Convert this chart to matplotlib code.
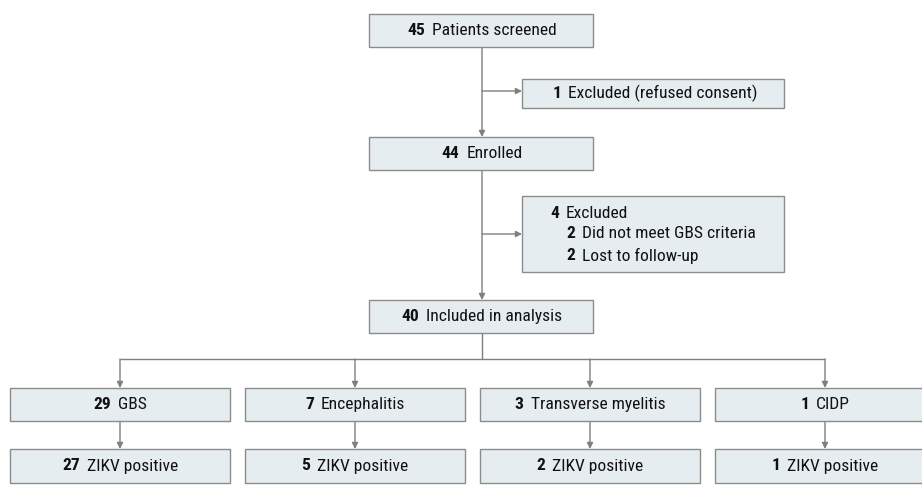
import matplotlib
matplotlib.use("Agg")
import matplotlib.pyplot as plt
from matplotlib import font_manager
from matplotlib.patches import Rectangle

# ---- data ----
screened_n = 45
screened_label = "Patients screened"
excl1_n = 1
excl1_label = "Excluded (refused consent)"
enrolled_n = 44
enrolled_label = "Enrolled"
excl2_n = 4
excl2_label = "Excluded"
excl2_reason_n = [2, 2]
excl2_reason_labels = ["Did not meet GBS criteria", "Lost to follow-up"]
analysis_n = 40
analysis_label = "Included in analysis"
diag_labels = ["GBS", "Encephalitis", "Transverse myelitis", "CIDP"]
diag_n = [29, 7, 3, 1]
zikv_label = "ZIKV positive"
zikv_n = [27, 5, 2, 1]

# ---- style ----
available = {f.name for f in font_manager.fontManager.ttflist}
family = "DejaVu Sans"
for cand in ["Liberation Sans Narrow", "Roboto Condensed", "Open Sans Condensed", "Noto Sans"]:
    if cand in available:
        family = cand
        break
plt.rcParams["font.family"] = [family, "DejaVu Sans"]
FS = 12.6
FILL = "#e6edf0"
EDGE = "#8c8c8c"
LINE = "#7f7f7f"
TXT = "#111111"

W, H = 922, 497
fig = plt.figure(figsize=(W / 100, H / 100), dpi=100)
ax = fig.add_axes([0, 0, 1, 1])
ax.set_xlim(0, W)
ax.set_ylim(H, 0)
ax.axis("off")
renderer = fig.canvas.get_renderer()


def box(x0, y0, x1, y1):
    ax.add_patch(Rectangle((x0, y0), x1 - x0, y1 - y0, facecolor=FILL,
                           edgecolor=EDGE, linewidth=1.0, zorder=2))


def text_width(s, weight):
    t = ax.text(0, 0, s, fontsize=FS, fontweight=weight)
    bb = t.get_window_extent(renderer=renderer)
    t.remove()
    inv = ax.transData.inverted()
    (xa, _), (xb, _) = inv.transform([(bb.x0, bb.y0), (bb.x1, bb.y0)])
    return abs(xb - xa)


def label(n, s, x, y, align="center"):
    num = str(n)
    wn = text_width(num, "bold")
    gap = 7
    ws = text_width(s, "normal")
    total = wn + gap + ws
    left = x - total / 2 if align == "center" else x
    ax.text(left, y, num, fontsize=FS, fontweight="bold", color=TXT,
            ha="left", va="center", zorder=3)
    ax.text(left + wn + gap, y, s, fontsize=FS, color=TXT,
            ha="left", va="center", zorder=3)


def arrow(x0, y0, x1, y1):
    ax.annotate("", xy=(x1, y1), xytext=(x0, y0),
                arrowprops=dict(arrowstyle="-|>", color=LINE, lw=1.0,
                                mutation_scale=9, shrinkA=0, shrinkB=0),
                zorder=1)


def line(xs, ys):
    ax.plot(xs, ys, color=LINE, lw=1.0, zorder=1, solid_capstyle="butt")


cx = 482
# main column
box(369, 14, 593, 47)
label(screened_n, screened_label, cx, 30.5)
box(522, 79, 784, 108)
label(excl1_n, excl1_label, 655, 93.5)
box(369, 137, 593, 170)
label(enrolled_n, enrolled_label, cx, 153.5)
box(522, 196, 784, 272)
label(excl2_n, excl2_label, 550, 213, align="left")
for i, (n, s) in enumerate(zip(excl2_reason_n, excl2_reason_labels)):
    label(n, s, 566, 234 + i * 21.5, align="left")
box(369, 300, 593, 333)
label(analysis_n, analysis_label, cx, 316.5)

arrow(cx, 47, cx, 137)
arrow(cx, 91, 522, 91)
arrow(cx, 170, cx, 300)
arrow(cx, 234, 522, 234)

# branches
centers = [120, 355, 590, 825]
line([cx, cx], [333, 359])
line([centers[0], centers[-1]], [359, 359])
for i, c in enumerate(centers):
    x0 = c - 110
    x1 = c + 110
    arrow(c, 359, c, 388)
    box(x0, 388, x1, 421)
    label(diag_n[i], diag_labels[i], c, 404.5)
    arrow(c, 421, c, 449)
    box(x0, 449, x1, 483)
    label(zikv_n[i], zikv_label, c, 466)

fig.savefig("out.png", dpi=100, facecolor="white")
